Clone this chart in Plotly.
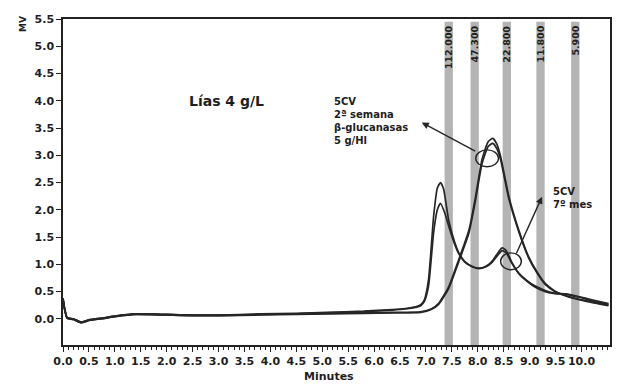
import plotly.graph_objects as go

# ---------------- data ----------------
# 5CV 7º mes (replica 1, tall first peak)
xa = [0.0, 0.03, 0.08, 0.2, 0.35, 0.5, 0.8, 1.0, 1.4, 2.0, 2.5, 3.0, 3.8, 4.5, 5.1, 5.8, 6.35, 6.6,
      6.8, 6.9, 6.97, 7.05, 7.15, 7.22, 7.28, 7.34, 7.44, 7.55, 7.63, 7.75, 7.9, 8.02, 8.15, 8.27, 8.38,
      8.47, 8.55, 8.65, 8.79, 8.95, 9.11, 9.3, 9.49, 9.7, 9.94, 10.2, 10.52]
ya = [0.38, 0.2, 0.02, 0.0, -0.06, -0.02, 0.02, 0.05, 0.09, 0.08, 0.07, 0.07, 0.09, 0.1, 0.12, 0.14, 0.17, 0.19,
      0.22, 0.26, 0.35, 0.72, 1.9, 2.4, 2.5, 2.38, 1.8, 1.42, 1.22, 1.05, 0.96, 0.93, 0.96, 1.05, 1.2,
      1.30, 1.25, 1.05, 0.84, 0.7, 0.6, 0.52, 0.47, 0.46, 0.41, 0.35, 0.28]

# 5CV 7º mes (replica 2, lower first peak)
xb = [0.0, 0.03, 0.08, 0.2, 0.35, 0.5, 0.8, 1.0, 1.4, 2.0, 2.5, 3.0, 3.8, 4.5, 5.1, 5.8, 6.35, 6.6,
      6.8, 6.9, 6.97, 7.05, 7.15, 7.22, 7.28, 7.36, 7.44, 7.55, 7.63, 7.75, 7.9, 8.02, 8.15, 8.27, 8.38,
      8.47, 8.55, 8.65, 8.79, 8.95, 9.11, 9.3, 9.49, 9.7, 9.94, 10.2, 10.52]
yb = [0.36, 0.18, 0.01, -0.01, -0.07, -0.03, 0.01, 0.04, 0.08, 0.07, 0.06, 0.06, 0.08, 0.09, 0.11, 0.13, 0.16, 0.18,
      0.21, 0.24, 0.32, 0.6, 1.6, 2.0, 2.12, 1.95, 1.7, 1.38, 1.2, 1.04, 0.95, 0.92, 0.95, 1.03, 1.16,
      1.25, 1.21, 1.03, 0.83, 0.69, 0.58, 0.5, 0.46, 0.45, 0.4, 0.33, 0.27]

# 5CV 2ª semana β-glucanasas 5 g/Hl (two traces)
xc = [0.0, 0.03, 0.08, 0.2, 0.35, 0.5, 0.8, 1.0, 1.4, 2.0, 2.5, 3.0, 3.8, 4.5, 5.1, 5.8, 6.35, 6.9,
      7.1, 7.25, 7.44, 7.63, 7.83, 7.95, 8.08, 8.2, 8.29, 8.37, 8.44, 8.6, 8.79, 8.98, 9.15, 9.3,
      9.5, 9.75, 10.1, 10.52]
yc = [0.37, 0.19, 0.02, 0.0, -0.06, -0.02, 0.02, 0.05, 0.09, 0.08, 0.07, 0.07, 0.08, 0.09, 0.1, 0.11, 0.12, 0.13,
      0.18, 0.29, 0.59, 1.08, 1.63, 2.2, 2.92, 3.25, 3.31, 3.2, 2.98, 2.24, 1.63, 1.14, 0.85, 0.65,
      0.5, 0.41, 0.33, 0.25]
yc2 = [0.36, 0.18, 0.01, -0.01, -0.07, -0.03, 0.01, 0.04, 0.08, 0.07, 0.06, 0.06, 0.07, 0.08, 0.09, 0.1, 0.11, 0.12,
       0.17, 0.27, 0.56, 1.04, 1.58, 2.14, 2.84, 3.16, 3.22, 3.12, 2.92, 2.2, 1.6, 1.12, 0.83, 0.63,
       0.49, 0.4, 0.32, 0.24]

# molecular-weight markers (Da)
band_x = [7.44, 7.94, 8.56, 9.21, 9.88]
band_labels = ["112.000", "47.300", "22.800", "11.800", "5.900"]

x_ticks = [i * 0.5 for i in range(21)]
y_ticks = [i * 0.5 for i in range(12)]

# ---------------- figure ----------------
LINE = "#262626"
FONT = "DejaVu Sans, sans-serif"
TXT = "#1e1e1e"

fig = go.Figure()
for xs, ys in [(xc, yc2), (xc, yc), (xb, yb), (xa, ya)]:
    fig.add_trace(go.Scatter(x=xs, y=ys, mode="lines",
                             line=dict(color=LINE, width=1.7, shape="spline", smoothing=0.5),
                             showlegend=False, hoverinfo="skip"))

shapes = []
annotations = []
band_half = 0.08
for bx, lab in zip(band_x, band_labels):
    shapes.append(dict(type="rect", xref="x", yref="y", x0=bx - band_half, x1=bx + band_half,
                       y0=-0.48, y1=5.45, fillcolor="#b4b4b4", line=dict(width=0), layer="below"))
    annotations.append(dict(x=bx, y=5.42, xref="x", yref="y", text="<b>" + lab + "</b>", showarrow=False,
                            textangle=-90, xanchor="center", yanchor="top",
                            font=dict(family=FONT, size=9.5, color=TXT)))

# ellipses
shapes.append(dict(type="circle", xref="x", yref="y", x0=7.96, x1=8.40, y0=2.79, y1=3.10,
                   line=dict(color=LINE, width=1.4)))
shapes.append(dict(type="circle", xref="x", yref="y", x0=8.44, x1=8.84, y0=0.90, y1=1.21,
                   line=dict(color=LINE, width=1.4)))

# arrows
annotations.append(dict(x=6.92, y=3.60, ax=7.98, ay=3.06, xref="x", yref="y", axref="x", ayref="y",
                        text="", showarrow=True, arrowhead=2, arrowsize=1, arrowwidth=1.4,
                        arrowcolor=LINE))
annotations.append(dict(x=9.24, y=2.24, ax=8.73, ay=1.17, xref="x", yref="y", axref="x", ayref="y",
                        text="", showarrow=True, arrowhead=2, arrowsize=1, arrowwidth=1.4,
                        arrowcolor=LINE))

# texts
annotations.append(dict(x=3.15, y=4.0, xref="x", yref="y", text="<b>Lías 4 g/L</b>", showarrow=False,
                        font=dict(family=FONT, size=14, color=TXT)))
annotations.append(dict(x=5.19, y=4.13, xref="x", yref="y",
                        text="<b>5CV<br>2ª semana<br>β-glucanasas<br>5 g/Hl</b>", showarrow=False,
                        xanchor="left", yanchor="top", align="left",
                        font=dict(family=FONT, size=10, color=TXT)))
annotations.append(dict(x=9.42, y=2.48, xref="x", yref="y", text="<b>5CV<br>7º mes</b>", showarrow=False,
                        xanchor="left", yanchor="top", align="left",
                        font=dict(family=FONT, size=10, color=TXT)))

# axis titles
annotations.append(dict(x=-0.073, y=0.985, xref="paper", yref="paper", text="<b>MV</b>", showarrow=False,
                        textangle=-90, xanchor="center", yanchor="middle",
                        font=dict(family=FONT, size=9, color=TXT)))
annotations.append(dict(x=0.487, y=-0.098, xref="paper", yref="paper", text="<b>Minutes</b>", showarrow=False,
                        xanchor="center", yanchor="middle",
                        font=dict(family=FONT, size=11, color=TXT)))

fig.update_layout(
    width=619, height=385,
    margin=dict(l=63, r=7, t=19, b=40),
    paper_bgcolor="white", plot_bgcolor="white",
    shapes=shapes, annotations=annotations,
    xaxis=dict(range=[0, 10.55], tickvals=x_ticks, ticktext=[f"<b>{v:.1f}</b>" for v in x_ticks],
               ticks="outside", ticklen=5, tickwidth=1.2, tickcolor="#222",
               minor=dict(dtick=0.1, ticks="outside", ticklen=3, tickcolor="#222", tickwidth=1),
               showgrid=False, zeroline=False, showline=True, linecolor="#222", linewidth=1.5,
               mirror=True,
               tickfont=dict(family=FONT, size=11, color=TXT)),
    yaxis=dict(range=[-0.48, 5.5], tickvals=y_ticks, ticktext=[f"<b>{v:.1f}</b>" for v in y_ticks],
               ticks="outside", ticklen=5, tickwidth=1.2, tickcolor="#222",
               showgrid=False, zeroline=False, showline=True, linecolor="#222", linewidth=1.5,
               mirror=True,
               tickfont=dict(family=FONT, size=11, color=TXT)),
)

fig.write_html("out.html")
